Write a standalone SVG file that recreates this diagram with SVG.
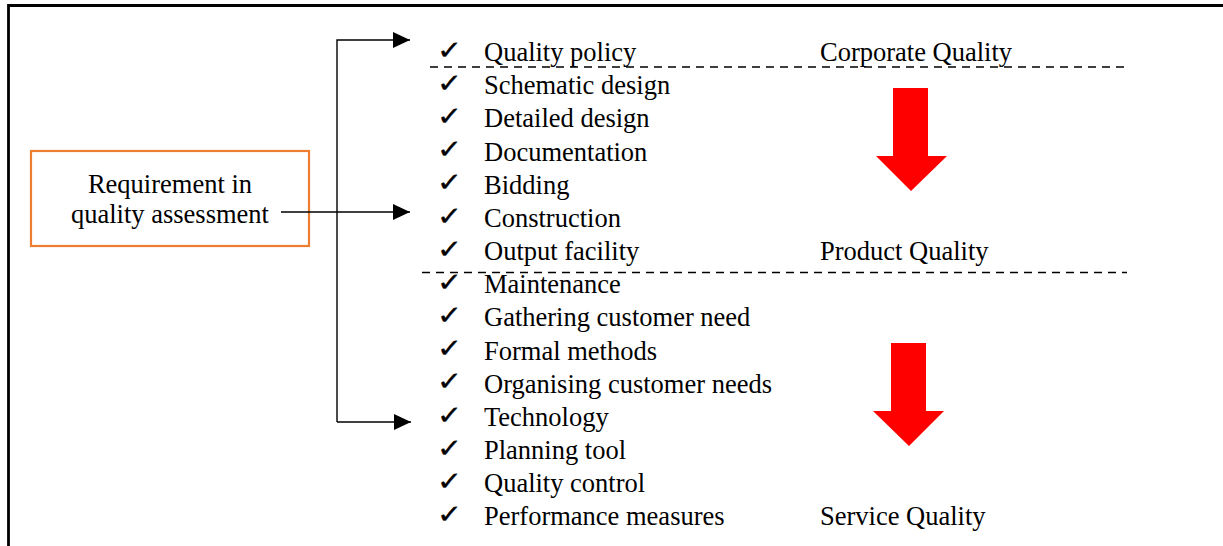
<svg xmlns="http://www.w3.org/2000/svg" width="1223" height="546" viewBox="0 0 1223 546">
  <style>
    .t { font-family: "Liberation Serif", "Times New Roman", serif; font-size: 26.5px; fill: #000; }
    .ck { font-family: "DejaVu Sans", sans-serif; font-size: 26px; fill: #000; stroke: #000; stroke-width: 0.4; }
    .dash { stroke: #000; stroke-width: 1.6; stroke-dasharray: 8 6; fill: none; }
    .conn { stroke: #000; stroke-width: 1.4; fill: none; }
    .frame { stroke: #000; stroke-width: 2.8; fill: none; }
    .red { fill: #ff0000; }
  </style>
  <defs>
    <marker id="head" viewBox="0 0 17 16" refX="17" refY="8" markerWidth="17" markerHeight="16" markerUnits="userSpaceOnUse" orient="auto">
      <path d="M0,0 L17,8 L0,16 Z" fill="#000"/>
    </marker>
  </defs>

  <rect width="1223" height="546" fill="#fff"/>

  <!-- outer frame: top and left edges -->
  <path class="frame" d="M8.5,546 L8.5,5.5 L1223,5.5"/>

  <!-- source box -->
  <g id="requirement">
    <rect x="31" y="151" width="278" height="95" fill="#fff" stroke="#ed7d31" stroke-width="2.2"/>
    <text class="t" x="170" y="192.5" text-anchor="middle">Requirement in</text>
    <text class="t" x="170" y="222.5" text-anchor="middle">quality assessment</text>
  </g>

  <!-- connectors -->
  <g id="connectors">
    <path class="conn" d="M337,422 L337,40 L410,40" marker-end="url(#head)"/>
    <path class="conn" d="M337,422 L411,422" marker-end="url(#head)"/>
    <path class="conn" d="M281,212 L410,212" marker-end="url(#head)"/>
  </g>

  <!-- section separators -->
  <g id="separators">
    <line class="dash" x1="430" y1="67" x2="1125" y2="67"/>
    <line class="dash" x1="422" y1="272.5" x2="1127" y2="272.5"/>
  </g>

  <!-- checklist -->
  <g id="checklist">
    <g class="ck" transform="translate(437,0) scale(1.15,1) translate(-437,0)">
      <text x="437" y="59">✓</text>
      <text x="437" y="92">✓</text>
      <text x="437" y="125">✓</text>
      <text x="437" y="158">✓</text>
      <text x="437" y="191">✓</text>
      <text x="437" y="225">✓</text>
      <text x="437" y="258">✓</text>
      <text x="437" y="291">✓</text>
      <text x="437" y="324">✓</text>
      <text x="437" y="357">✓</text>
      <text x="437" y="390">✓</text>
      <text x="437" y="424">✓</text>
      <text x="437" y="457">✓</text>
      <text x="437" y="490">✓</text>
      <text x="437" y="523">✓</text>
    </g>
    <g class="t">
      <text x="484" y="60.5">Quality policy</text>
      <text x="484" y="93.5">Schematic design</text>
      <text x="484" y="127">Detailed design</text>
      <text x="484" y="160.5">Documentation</text>
      <text x="484" y="193.5">Bidding</text>
      <text x="484" y="227">Construction</text>
      <text x="484" y="260">Output facility</text>
      <text x="484" y="293">Maintenance</text>
      <text x="484" y="326">Gathering customer need</text>
      <text x="484" y="359.5">Formal methods</text>
      <text x="484" y="392.5">Organising customer needs</text>
      <text x="484" y="425.5">Technology</text>
      <text x="484" y="458.5">Planning tool</text>
      <text x="484" y="491.5">Quality control</text>
      <text x="484" y="524.5">Performance measures</text>
    </g>
  </g>

  <!-- quality level labels -->
  <g id="levels" class="t">
    <text x="820" y="60.5">Corporate Quality</text>
    <text x="820" y="260">Product Quality</text>
    <text x="820" y="524.5">Service Quality</text>
  </g>

  <!-- red down arrows -->
  <g id="arrow-upper">
    <path class="red" d="M893,88 L928,88 L928,156 L947,156 L911,191 L876,156 L893,156 Z"/>
  </g>
  <g id="arrow-lower">
    <path class="red" d="M891,343 L926,343 L926,411 L944,411 L909,446 L873,411 L891,411 Z"/>
  </g>
</svg>
